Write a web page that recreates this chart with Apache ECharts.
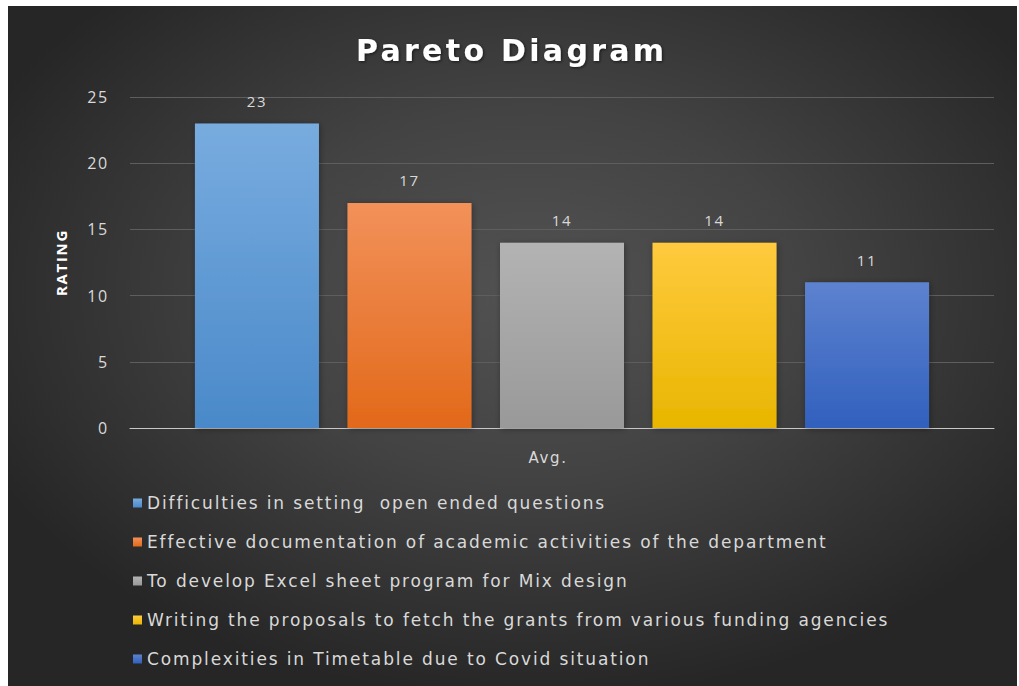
<!DOCTYPE html>
<html>
<head>
<meta charset="utf-8">
<script src="https://cdn.jsdelivr.net/npm/echarts@6/dist/echarts.min.js"></script>
<style>
  html, body { margin: 0; padding: 0; background: #ffffff; width: 1019px; height: 686px; overflow: hidden; }
  #chart {
    position: absolute; left: 8px; top: 6px; width: 1009px; height: 680px;
    background: radial-gradient(ellipse 60% 60% at 52% 42%, #525252 0%, #434343 45%, #2e2e2e 85%, #262626 100%);
  }
  #chart svg text { letter-spacing: 0.11em; }
</style>
</head>
<body>
<div id="chart"></div>
<script>
const categories = ['Avg.'];
const seriesNames = [
  'Difficulties in setting  open ended questions',
  'Effective documentation of academic activities of the department',
  'To develop Excel sheet program for Mix design',
  'Writing the proposals to fetch the grants from various funding agencies',
  'Complexities in Timetable due to Covid situation'
];
const seriesValues = [23, 17, 14, 14, 11];
const yTicks = { min: 0, max: 25, interval: 5 };
const yAxisTitle = 'RATING';
const chartTitle = 'Pareto Diagram';

const barColors = [
  ['#78acdf', '#4a89c9'],
  ['#f2915a', '#e2691a'],
  ['#b3b3b3', '#999999'],
  ['#ffca3e', '#e8b600'],
  ['#5d82cf', '#3160bd']
];
const legendColors = ['#5b9bd5', '#ed7d31', '#a5a5a5', '#ffc000', '#4472c4'];

const chart = echarts.init(document.getElementById('chart'), null, { renderer: 'svg' });
const font = '"Open Sans", "Noto Sans", sans-serif';
const wideFont = '"DejaVu Sans", "Open Sans", sans-serif';

const series = seriesNames.map((name, i) => ({
  name: name,
  type: 'bar',
  data: [seriesValues[i]],
  barWidth: 124,
  barGap: '23%',
  itemStyle: {
    color: new echarts.graphic.LinearGradient(0, 0, 0, 1, [
      { offset: 0, color: barColors[i][0] },
      { offset: 1, color: barColors[i][1] }
    ]),
    shadowColor: 'rgba(0,0,0,0.35)',
    shadowBlur: 6,
    shadowOffsetX: 1,
    shadowOffsetY: 1
  },
  label: {
    show: true,
    position: 'top',
    distance: 15,
    color: '#d9d9d9',
    fontSize: 15,
    fontFamily: font
  }
}));

chart.setOption({
  backgroundColor: 'transparent',
  animation: false,
  title: {
    text: chartTitle,
    left: 343,
    top: 24,
    textStyle: {
      color: '#ffffff',
      fontSize: 30,
      fontWeight: 'bold',
      fontFamily: wideFont,
      textShadowColor: 'rgba(0,0,0,0.6)',
      textShadowBlur: 3,
      textShadowOffsetX: 1,
      textShadowOffsetY: 1
    }
  },
  color: legendColors,
  legend: {
    orient: 'vertical',
    left: 120,
    top: 482,
    itemWidth: 9,
    itemHeight: 9,
    itemGap: 19,
    icon: 'rect',
    textStyle: { color: '#d9d9d9', fontSize: 17, lineHeight: 20, fontFamily: wideFont },
    data: seriesNames
  },
  grid: { left: 122, right: 23, top: 91, bottom: 258, containLabel: false },
  xAxis: {
    type: 'category',
    data: categories,
    axisLine: { lineStyle: { color: '#c8c8c8', width: 1 } },
    axisTick: { show: false },
    axisLabel: { color: '#d9d9d9', fontSize: 15, fontFamily: wideFont, margin: 22, padding: [0, 28, 0, 0] }
  },
  yAxis: {
    type: 'value',
    min: yTicks.min,
    max: yTicks.max,
    interval: yTicks.interval,
    name: yAxisTitle,
    nameLocation: 'middle',
    nameGap: 62,
    nameRotate: 90,
    nameTextStyle: { color: '#ffffff', fontSize: 15, fontWeight: 'bold', fontFamily: font },
    axisLine: { show: false },
    axisTick: { show: false },
    axisLabel: { color: '#d9d9d9', fontSize: 16, fontFamily: font, margin: 21 },
    splitLine: { lineStyle: { color: '#5e5e5e', width: 1 } }
  },
  series: series
});
</script>
</body>
</html>
